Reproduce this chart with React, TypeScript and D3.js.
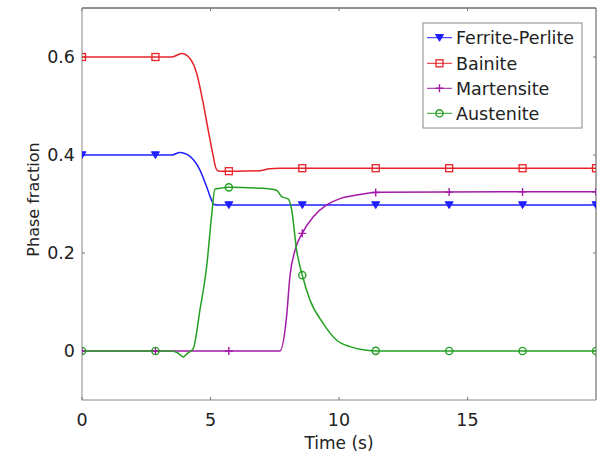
import React from "react";
import * as d3 from "d3";

const seriesNames = ["Ferrite-Perlite", "Bainite", "Martensite", "Austenite"];
const seriesColors = ["#1f1fff", "#e8232a", "#a31aa8", "#23a023"];

const ferriteT = [0, 3.5, 3.8, 4.2, 4.59, 4.85, 5.04, 5.13, 5.3, 20];
const ferriteV = [0.4, 0.4, 0.405, 0.397, 0.369, 0.335, 0.308, 0.299, 0.298, 0.298];

const bainiteT = [0, 3.5, 3.88, 4.2, 4.46, 4.72, 4.91, 5.11, 5.21, 5.32, 6.0, 6.9, 7.3, 7.7, 20];
const bainiteV = [0.6, 0.6, 0.607, 0.597, 0.567, 0.505, 0.451, 0.397, 0.373, 0.367, 0.367, 0.368, 0.372, 0.373, 0.373];

const martensiteT = [0, 7.7, 7.96, 8.09, 8.29, 8.57, 9.0, 9.52, 10.04, 10.43, 11.0, 11.5, 20];
const martensiteV = [0, 0, 0.07, 0.152, 0.206, 0.24, 0.274, 0.298, 0.311, 0.316, 0.321, 0.324, 0.325];

const austeniteT = [0, 3.42, 3.7, 3.94, 4.1, 4.33, 4.59, 4.85, 5.04, 5.17, 5.37, 5.69, 7.0, 7.57, 7.77, 8.03, 8.16, 8.35, 8.57, 8.87, 9.39, 9.91, 10.43, 11.0, 11.5, 20];
const austeniteV = [0, 0, -0.003, -0.012, -0.005, 0.005, 0.084, 0.172, 0.274, 0.33, 0.332, 0.334, 0.332, 0.328, 0.315, 0.31, 0.288, 0.206, 0.155, 0.104, 0.056, 0.022, 0.009, 0.002, 0, 0];

const xTicks = [0, 5, 10, 15];
const yTicks = [0, 0.2, 0.4, 0.6];
const markerCount = 8;

const W = 606, H = 462;
const L = 82, R = 596, T = 8, B = 400;
const FONT = "DejaVu Sans, Verdana, sans-serif";

export default function App() {
  const x = d3.scaleLinear().domain([0, 20]).range([L, R]);
  const y = d3.scaleLinear().domain([-0.1, 0.7]).range([B, T]);

  const series = [
    { t: ferriteT, v: ferriteV },
    { t: bainiteT, v: bainiteV },
    { t: martensiteT, v: martensiteV },
    { t: austeniteT, v: austeniteV },
  ].map((s) => s.t.map((t, i) => [t, s.v[i]] as [number, number]));

  const line = d3
    .line<[number, number]>()
    .x((d) => x(d[0]))
    .y((d) => y(d[1]))
    .curve(d3.curveMonotoneX);

  const interp = (pts: [number, number][], t: number) => {
    for (let i = 0; i < pts.length - 1; i++) {
      if (t >= pts[i][0] && t <= pts[i + 1][0]) {
        const f = (t - pts[i][0]) / (pts[i + 1][0] - pts[i][0] || 1);
        return pts[i][1] + f * (pts[i + 1][1] - pts[i][1]);
      }
    }
    return pts[pts.length - 1][1];
  };

  const markerTimes = d3.range(markerCount).map((i) => (i * 20) / (markerCount - 1));

  const marker = (k: number, cx: number, cy: number, key: string) => {
    const c = seriesColors[k];
    if (k === 0) {
      const s = 4;
      return <path key={key} d={`M${cx - s},${cy - s * 0.8}L${cx + s},${cy - s * 0.8}L${cx},${cy + s * 0.9}Z`} fill={c} stroke={c} strokeWidth={1} />;
    }
    if (k === 1) {
      return <rect key={key} x={cx - 3.5} y={cy - 3.5} width={7} height={7} fill="none" stroke={c} strokeWidth={1.3} />;
    }
    if (k === 2) {
      return (
        <path key={key} d={`M${cx - 4},${cy}L${cx + 4},${cy}M${cx},${cy - 4}L${cx},${cy + 4}`} stroke={c} strokeWidth={1.4} fill="none" />
      );
    }
    return <circle key={key} cx={cx} cy={cy} r={3.6} fill="none" stroke={c} strokeWidth={1.4} />;
  };

  const legendX = 423, legendY = 23, legendW = 159, legendH = 105;
  const legendRows = [37.7, 63.3, 88.3, 113.3];

  return (
    <svg width={W} height={H} style={{ position: "absolute", left: 0, top: 0, background: "#fff" }} fontFamily={FONT}>
      <defs>
        <clipPath id="plot">
          <rect x={L} y={T} width={R - L} height={B - T} />
        </clipPath>
      </defs>
      <rect x={0} y={0} width={W} height={H} fill="#fff" />
      {/* frame */}
      <line x1={L} y1={T} x2={R} y2={T} stroke="#222" strokeWidth={1} />
      <line x1={R} y1={T} x2={R} y2={B} stroke="#555" strokeWidth={1} />
      <line x1={L} y1={T} x2={L} y2={B} stroke="#888" strokeWidth={1} />
      <line x1={L} y1={B} x2={R} y2={B} stroke="#888" strokeWidth={1} />
      {/* ticks */}
      {xTicks.map((t) => (
        <g key={"xt" + t}>
          <line x1={x(t)} x2={x(t)} y1={B} y2={B - 3} stroke="#777" />
          <line x1={x(t)} x2={x(t)} y1={T} y2={T + 3} stroke="#777" />
          <text x={x(t)} y={426} textAnchor="middle" fontSize={17.5} fill="#222">{t}</text>
        </g>
      ))}
      {yTicks.map((t) => (
        <g key={"yt" + t}>
          <line x1={L} x2={L + 3} y1={y(t)} y2={y(t)} stroke="#777" />
          <line x1={R} x2={R - 3} y1={y(t)} y2={y(t)} stroke="#777" />
          <text x={75} y={y(t)} dy="0.36em" textAnchor="end" fontSize={17.5} fill="#222">{t === 0 ? "0" : String(t)}</text>
        </g>
      ))}
      <text x={(L + R) / 2} y={449} textAnchor="middle" fontSize={17} fill="#222">Time (s)</text>
      <text transform={`translate(39,${199.5}) rotate(-90)`} textAnchor="middle" fontSize={16} fill="#222">Phase fraction</text>
      {/* lines */}
      <g clipPath="url(#plot)">
        {series.map((pts, k) => (
          <path key={"l" + k} d={line(pts) || ""} fill="none" stroke={seriesColors[k]} strokeWidth={1.5} />
        ))}
        {series.map((pts, k) =>
          markerTimes.map((t, i) => marker(k, x(t), y(interp(pts, t)), `m${k}-${i}`))
        )}
      </g>
      {/* legend */}
      <rect x={legendX} y={legendY} width={legendW} height={legendH} fill="#fff" stroke="#888" strokeWidth={1} />
      {seriesNames.map((n, k) => (
        <g key={"lg" + k}>
          <line x1={427} x2={452} y1={legendRows[k]} y2={legendRows[k]} stroke={seriesColors[k]} strokeWidth={1} />
          {marker(k, 439.5, legendRows[k], "lm" + k)}
          <text x={456} y={legendRows[k]} dy="0.36em" fontSize={17.5} fill="#222">{n}</text>
        </g>
      ))}
    </svg>
  );
}
